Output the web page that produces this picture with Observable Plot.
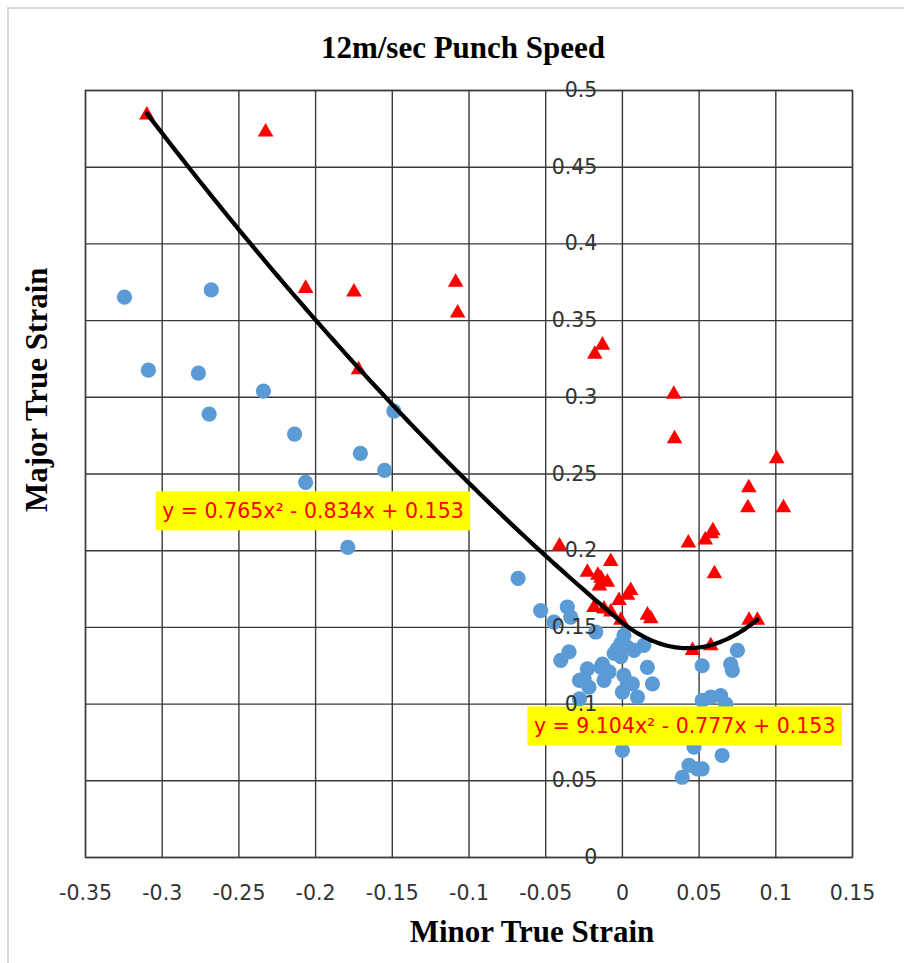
<!DOCTYPE html>
<html>
<head>
<meta charset="utf-8">
<script src="https://cdn.jsdelivr.net/npm/d3@7"></script>
<script src="https://cdn.jsdelivr.net/npm/@observablehq/plot@0.6"></script>
<style>
  html, body { margin: 0; padding: 0; background: #ffffff; }
  #wrap { position: relative; width: 904px; height: 963px; overflow: hidden; }
  #edge { position: absolute; left: 7px; top: 7px; width: 920px; height: 980px;
          border-left: 2px solid #d9d9d9; border-top: 2px solid #d9d9d9; pointer-events: none; }
  #chart { position: absolute; left: 0; top: 0; }
</style>
</head>
<body>
<div id="wrap"><div id="chart"></div><div id="edge"></div></div>
<script>
// ---- data ----
const title = "12m/sec Punch Speed";
const xLabel = "Minor True Strain";
const yLabel = "Major True Strain";

const xTicks = [-0.35, -0.3, -0.25, -0.2, -0.15, -0.1, -0.05, 0, 0.05, 0.1, 0.15];
const xTickLabels = ["-0.35", "-0.3", "-0.25", "-0.2", "-0.15", "-0.1", "-0.05", "0", "0.05", "0.1", "0.15"];
const yTicks = [0, 0.05, 0.1, 0.15, 0.2, 0.25, 0.3, 0.35, 0.4, 0.45, 0.5];
const yTickLabels = ["0", "0.05", "0.1", "0.15", "0.2", "0.25", "0.3", "0.35", "0.4", "0.45", "0.5"];

// blue circles
const blueX = [-0.3246, -0.309, -0.268, -0.2764, -0.234, -0.2694, -0.2137, -0.1708, -0.2065, -0.155,
  -0.149, -0.179, -0.068, -0.0533, -0.0359, -0.0337, -0.0446, -0.0174, -0.0348, -0.0402,
  0.001, -0.001, -0.0033, 0.0033, 0.0076, 0.014, -0.0054, -0.001, -0.013, -0.014,
  -0.0228, -0.025, -0.028, -0.0087, -0.012, 0.001, 0.0033, 0.0065, 0.0163, 0.0196,
  -0.0218, 0, 0.0098, -0.028, 0.052, 0.075, 0.0706, 0.0717, 0.052, 0.0576,
  0.064, 0.0674, 0, 0.0467, 0.065, 0.0434, 0.0489, 0.052, 0.039];
const blueY = [0.3653, 0.3177, 0.370, 0.3157, 0.304, 0.289, 0.276, 0.2635, 0.2446, 0.2524,
  0.291, 0.2022, 0.182, 0.161, 0.1633, 0.1567, 0.1535, 0.147, 0.134, 0.1285,
  0.1448, 0.1394, 0.136, 0.137, 0.135, 0.1383, 0.133, 0.131, 0.126, 0.124,
  0.123, 0.1165, 0.1155, 0.121, 0.1155, 0.1187, 0.1132, 0.1132, 0.124, 0.1132,
  0.111, 0.1078, 0.1045, 0.1034, 0.125, 0.135, 0.126, 0.122, 0.1024, 0.1045,
  0.1056, 0.100, 0.0698, 0.072, 0.0665, 0.060, 0.0578, 0.0578, 0.0523];

// red triangles
const redX = [-0.310, -0.2326, -0.2065, -0.175, -0.1087, -0.1074, -0.172, -0.018, -0.013, 0.0335,
  0.034, 0.1006, 0.105, 0.0824, 0.0818, 0.043, -0.041, 0.054, 0.058, 0.059,
  -0.0076, -0.0228, -0.016, -0.014, -0.0098, -0.015, 0.060, 0.0054, 0.0033, -0.0022,
  -0.0185, -0.012, -0.0076, -0.001, 0.0163, 0.0185, 0.0457, 0.0576, 0.0826, 0.088];
const redY = [0.484, 0.473, 0.371, 0.3686, 0.375, 0.355, 0.318, 0.328, 0.334, 0.302,
  0.273, 0.260, 0.228, 0.241, 0.228, 0.205, 0.203, 0.207, 0.211, 0.213,
  0.193, 0.186, 0.184, 0.182, 0.1795, 0.177, 0.185, 0.174, 0.171, 0.1676,
  0.163, 0.162, 0.160, 0.1546, 0.158, 0.1557, 0.135, 0.138, 0.1546, 0.1546];

// polynomial trendlines (coefficients shown on the chart) and their x extents
const fitA = [0.765, 9.104];
const fitB = [-0.834, -0.777];
const fitC = [0.153, 0.153];
const fitFrom = [-0.310, 0];
const fitTo = [0, 0.088];

// equation labels
const eqText = ["y = 0.765x\u00B2 - 0.834x + 0.153", "y = 9.104x\u00B2 - 0.777x + 0.153"];
const eqX = [-0.2017, 0.0406];
const eqY = [0.2257, 0.0855];

// ---- build tables ----
const blue = blueX.map((x, i) => ({x, y: blueY[i]}));
const red = redX.map((x, i) => ({x, y: redY[i]}));
const fits = [];
fitA.forEach((a, k) => {
  const n = 120;
  for (let j = 0; j <= n; j++) {
    const x = fitFrom[k] + (fitTo[k] - fitFrom[k]) * j / n;
    fits.push({k, x, y: a * x * x + fitB[k] * x + fitC[k]});
  }
});
const eqs = eqText.map((t, i) => ({t, x: eqX[i], y: eqY[i]}));

const gridColor = "#3a3a3a";
const tickColor = "#333333";
const serif = "'Liberation Serif', 'Times New Roman', serif";
const sans = "'DejaVu Sans', sans-serif";

const chart = Plot.plot({
  width: 904,
  height: 963,
  marginLeft: 85,
  marginRight: 52,
  marginTop: 90,
  marginBottom: 106,
  style: {fontFamily: sans, background: "transparent"},
  x: {domain: [-0.35, 0.15], axis: null},
  y: {domain: [0, 0.5], axis: null},
  marks: [
    Plot.gridX(xTicks, {stroke: gridColor, strokeOpacity: 1, strokeWidth: 1.4}),
    Plot.gridY(yTicks, {stroke: gridColor, strokeOpacity: 1, strokeWidth: 1.4}),
    Plot.frame({stroke: gridColor, strokeWidth: 1.4}),
    Plot.text(xTicks, {x: d => d, frameAnchor: "bottom", dy: 36, text: (d, i) => xTickLabels[i],
      fontSize: 20.5, fill: tickColor, fontFamily: sans, lineAnchor: "middle"}),
    Plot.dot(blue, {x: "x", y: "y", r: 7.6, fill: "#5B9BD5", stroke: "none"}),
    Plot.dot(red, {x: "x", y: "y", symbol: "triangle", r: 5.8, fill: "#FF0000", stroke: "none"}),
    Plot.line(fits, {x: "x", y: "y", z: "k", stroke: "#000000", strokeWidth: 4.3}),
    Plot.text(eqs, {x: "x", y: "y", text: "t", fill: "#FF0000", fontSize: 20.5, fontFamily: sans,
      lineAnchor: "middle"}),
    Plot.text(yTicks, {x: () => 0, y: d => d, dx: -25, text: (d, i) => yTickLabels[i],
      textAnchor: "end", fontSize: 20.5, fill: tickColor, fontFamily: sans, lineAnchor: "middle"}),
    Plot.text([title], {frameAnchor: "top", dx: -6, dy: -42, text: d => d, fontFamily: serif,
      fontWeight: "bold", fontSize: 31, fill: "#000", lineAnchor: "middle"}),
    Plot.text([xLabel], {frameAnchor: "bottom", dx: 63, dy: 75, text: d => d, fontFamily: serif,
      fontWeight: "bold", fontSize: 31, fill: "#000", lineAnchor: "middle"}),
    Plot.text([yLabel], {frameAnchor: "left", dx: -48, dy: 38, rotate: -90, text: d => d, fontFamily: serif,
      fontWeight: "bold", fontSize: 31, fill: "#000", lineAnchor: "middle"})
  ]
});

document.getElementById("chart").appendChild(chart);

// yellow boxes behind the equation labels
const ns = "http://www.w3.org/2000/svg";
chart.querySelectorAll("text").forEach(t => {
  if (!eqText.includes(t.textContent)) return;
  const b = t.getBBox();
  const w = b.width + 13, h = 39;
  const r = document.createElementNS(ns, "rect");
  r.setAttribute("x", b.x + b.width / 2 - w / 2);
  r.setAttribute("y", b.y + b.height / 2 - h / 2);
  r.setAttribute("width", w);
  r.setAttribute("height", h);
  r.setAttribute("fill", "#FFFF00");
  const tr = t.getAttribute("transform");
  if (tr) r.setAttribute("transform", tr);
  t.parentNode.insertBefore(r, t);
});
</script>
</body>
</html>
